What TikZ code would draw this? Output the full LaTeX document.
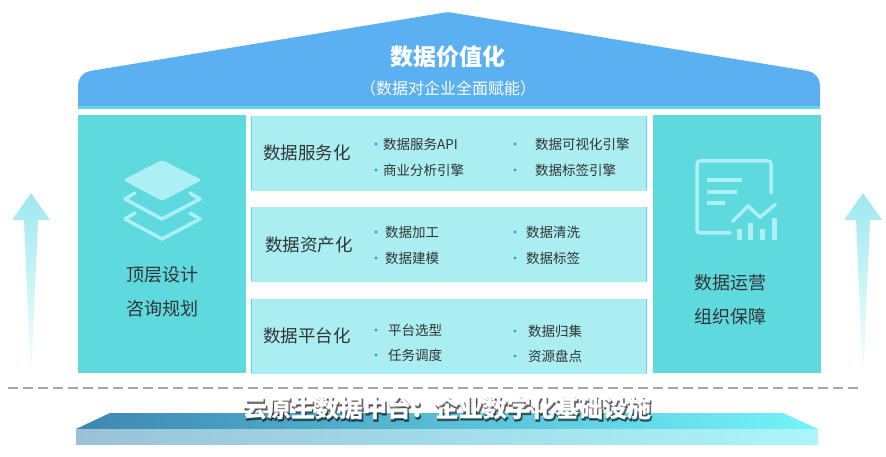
\documentclass[tikz,border=0pt]{standalone}
\usepackage{fontspec}
\setmainfont{Noto Sans CJK SC}
\newfontfamily\glowfont{Noto Sans CJK SC}[FakeBold=6]
\usepackage{tikz}
\usetikzlibrary{positioning,shapes}

\definecolor{roofblue}{HTML}{5AB0F0}
\definecolor{pillar}{HTML}{5EDADF}
\definecolor{layer}{HTML}{AAEEF2}
\definecolor{iconc}{HTML}{ADF0F3}
\definecolor{txt}{HTML}{333333}
\definecolor{dot}{HTML}{3A9BDC}
\definecolor{arrowc}{HTML}{9DE9EF}

\begin{document}
\begin{tikzpicture}[x=1pt, y=-1pt,
    head/.style={anchor=west, text=txt, font=\fontsize{17.5}{20}\selectfont, inner sep=0},
    item/.style={anchor=west, text=txt, font=\fontsize{13.5}{16}\selectfont, inner sep=0},
    pill/.style={text=txt, font=\fontsize{18}{22}\selectfont, inner sep=0},
    icon/.style={draw=iconc, line width=3.5pt, line cap=round, line join=round}]
  \useasboundingbox (0,0) rectangle (886,457);

  % roof
  \fill[roofblue] (78,106) {[rounded corners=12pt] -- (78,73)} {[rounded corners=3pt] -- (448,12)}
                  {[rounded corners=12pt] -- (820,73)} -- (820,106) -- cycle;
  \fill[pillar] (78,106) rectangle (820,109);
  \node (title) at (448,57) [text=white, font=\fontsize{23}{26}\selectfont\bfseries] {数据价值化};
  \node (sub) at (448,88) [text=white, font=\fontsize{16}{18}\selectfont] {（数据对企业全面赋能）};

  % pillars
  \fill[pillar] (78,115) rectangle (246,373) node (lbox) [pos=.5] {};
  \fill[pillar] (653,115) rectangle (821,373) node (rbox) [pos=.5] {};
  \node (lt1) at (162,275) [pill] {顶层设计};
  \node (lt2) at (162,309) [pill] {咨询规划};
  \node (rt1) at (730,283) [pill] {数据运营};
  \node (rt2) at (730,317) [pill] {组织保障};

  % layers icon
  \fill[iconc, rounded corners=3pt] (162,160) -- (202,180) -- (162,201) -- (123,180) -- cycle;
  \draw[icon] (135,193) -- (125,199) -- (162,219) -- (200,199) -- (190,193)
              (135,213) -- (125,219) -- (162,239) -- (200,219) -- (190,213);

  % report icon
  \draw[icon, rounded corners=3pt] (771,193) -- (771,161) -- (697,161) -- (697,233) -- (730,233);
  \draw[icon, line cap=butt] (707,180) -- (742,180) (707,192) -- (737,192) (707,203) -- (725,203);
  \draw[icon, line cap=butt, line join=miter] (732,222) -- (748,206) -- (760,217) -- (776,204);
  \draw[icon, line cap=butt, line width=5pt] (739.5,240) -- (739.5,229) (750.5,240) -- (750.5,223)
              (762.5,240) -- (762.5,229) (774.5,240) -- (774.5,218);

  % middle layers
  \draw[layer, fill=layer] (251,116) rectangle (646,190) node (svc) [pos=.5] {};
  \draw[layer, fill=layer] (251,207) rectangle (646,281) node (ast) [pos=.5] {};
  \draw[layer, fill=layer] (251,299) rectangle (646,373) node (plt) [pos=.5] {};
  \draw[pillar, line width=1pt] (251,116) -- (251,190) (646,116) -- (646,190)
                                (251,207) -- (251,281) (646,207) -- (646,281)
                                (251,299) -- (251,373) (646,299) -- (646,373);
  \node (h1) at (263,153) [head] {数据服务化};
  \node (h2) at (265,245) [head] {数据资产化};
  \node (h3) at (263,336) [head] {数据平台化};

  \foreach \x/\y/\t [count=\i] in {383/144/数据服务API, 383/170/商业分析引擎,
      535/144/数据可视化引擎, 535/170/数据标签引擎,
      385/232/数据加工, 385/258/数据建模, 526/232/数据清洗, 526/258/数据标签,
      388/330/平台选型, 388/355/任务调度, 528/331/数据归集, 528/356/资源盘点}
  {
    \node (b\i) at (\x,\y) [item] {\t};
    \ifdim\x pt<450pt \fill[dot] (376,\y) circle (1.7pt); \else \fill[dot] (515,\y) circle (1.7pt); \fi
  }

  % side arrows
  \shade[top color=arrowc, bottom color=white] (31,193) -- (50,220) -- (38,220) -- (31,382) -- (24,220) -- (12,220) -- cycle;
  \shade[top color=arrowc, bottom color=white] (863,193) -- (882,220) -- (870,220) -- (863,382) -- (856,220) -- (844,220) -- cycle;

  % base
  \draw[gray!70, line width=1.2pt, dash pattern=on 10pt off 5pt] (8,388) -- (862,388);
  \shade[left color={rgb,255:red,62;green,135;blue,179}, middle color={rgb,255:red,85;green,168;blue,238},
         right color={rgb,255:red,114;green,244;blue,250}] (76,429) -- (110,413) -- (783,413) -- (818,429) -- cycle;
  \shade[left color={rgb,255:red,154;green,194;blue,214}, middle color={rgb,255:red,169;green,205;blue,242},
         right color={rgb,255:red,170;green,246;blue,250}] (76,429) rectangle (818,444);
  \node (baseshadow) at (448,409.5) [text=black, opacity=.45, font=\fontsize{24}{28}\glowfont\bfseries] {云原生数据中台：企业数字化基础设施};
  \node (base) at (447,408) [text=white, font=\fontsize{24}{28}\selectfont\bfseries] {云原生数据中台：企业数字化基础设施};
\end{tikzpicture}
\end{document}
